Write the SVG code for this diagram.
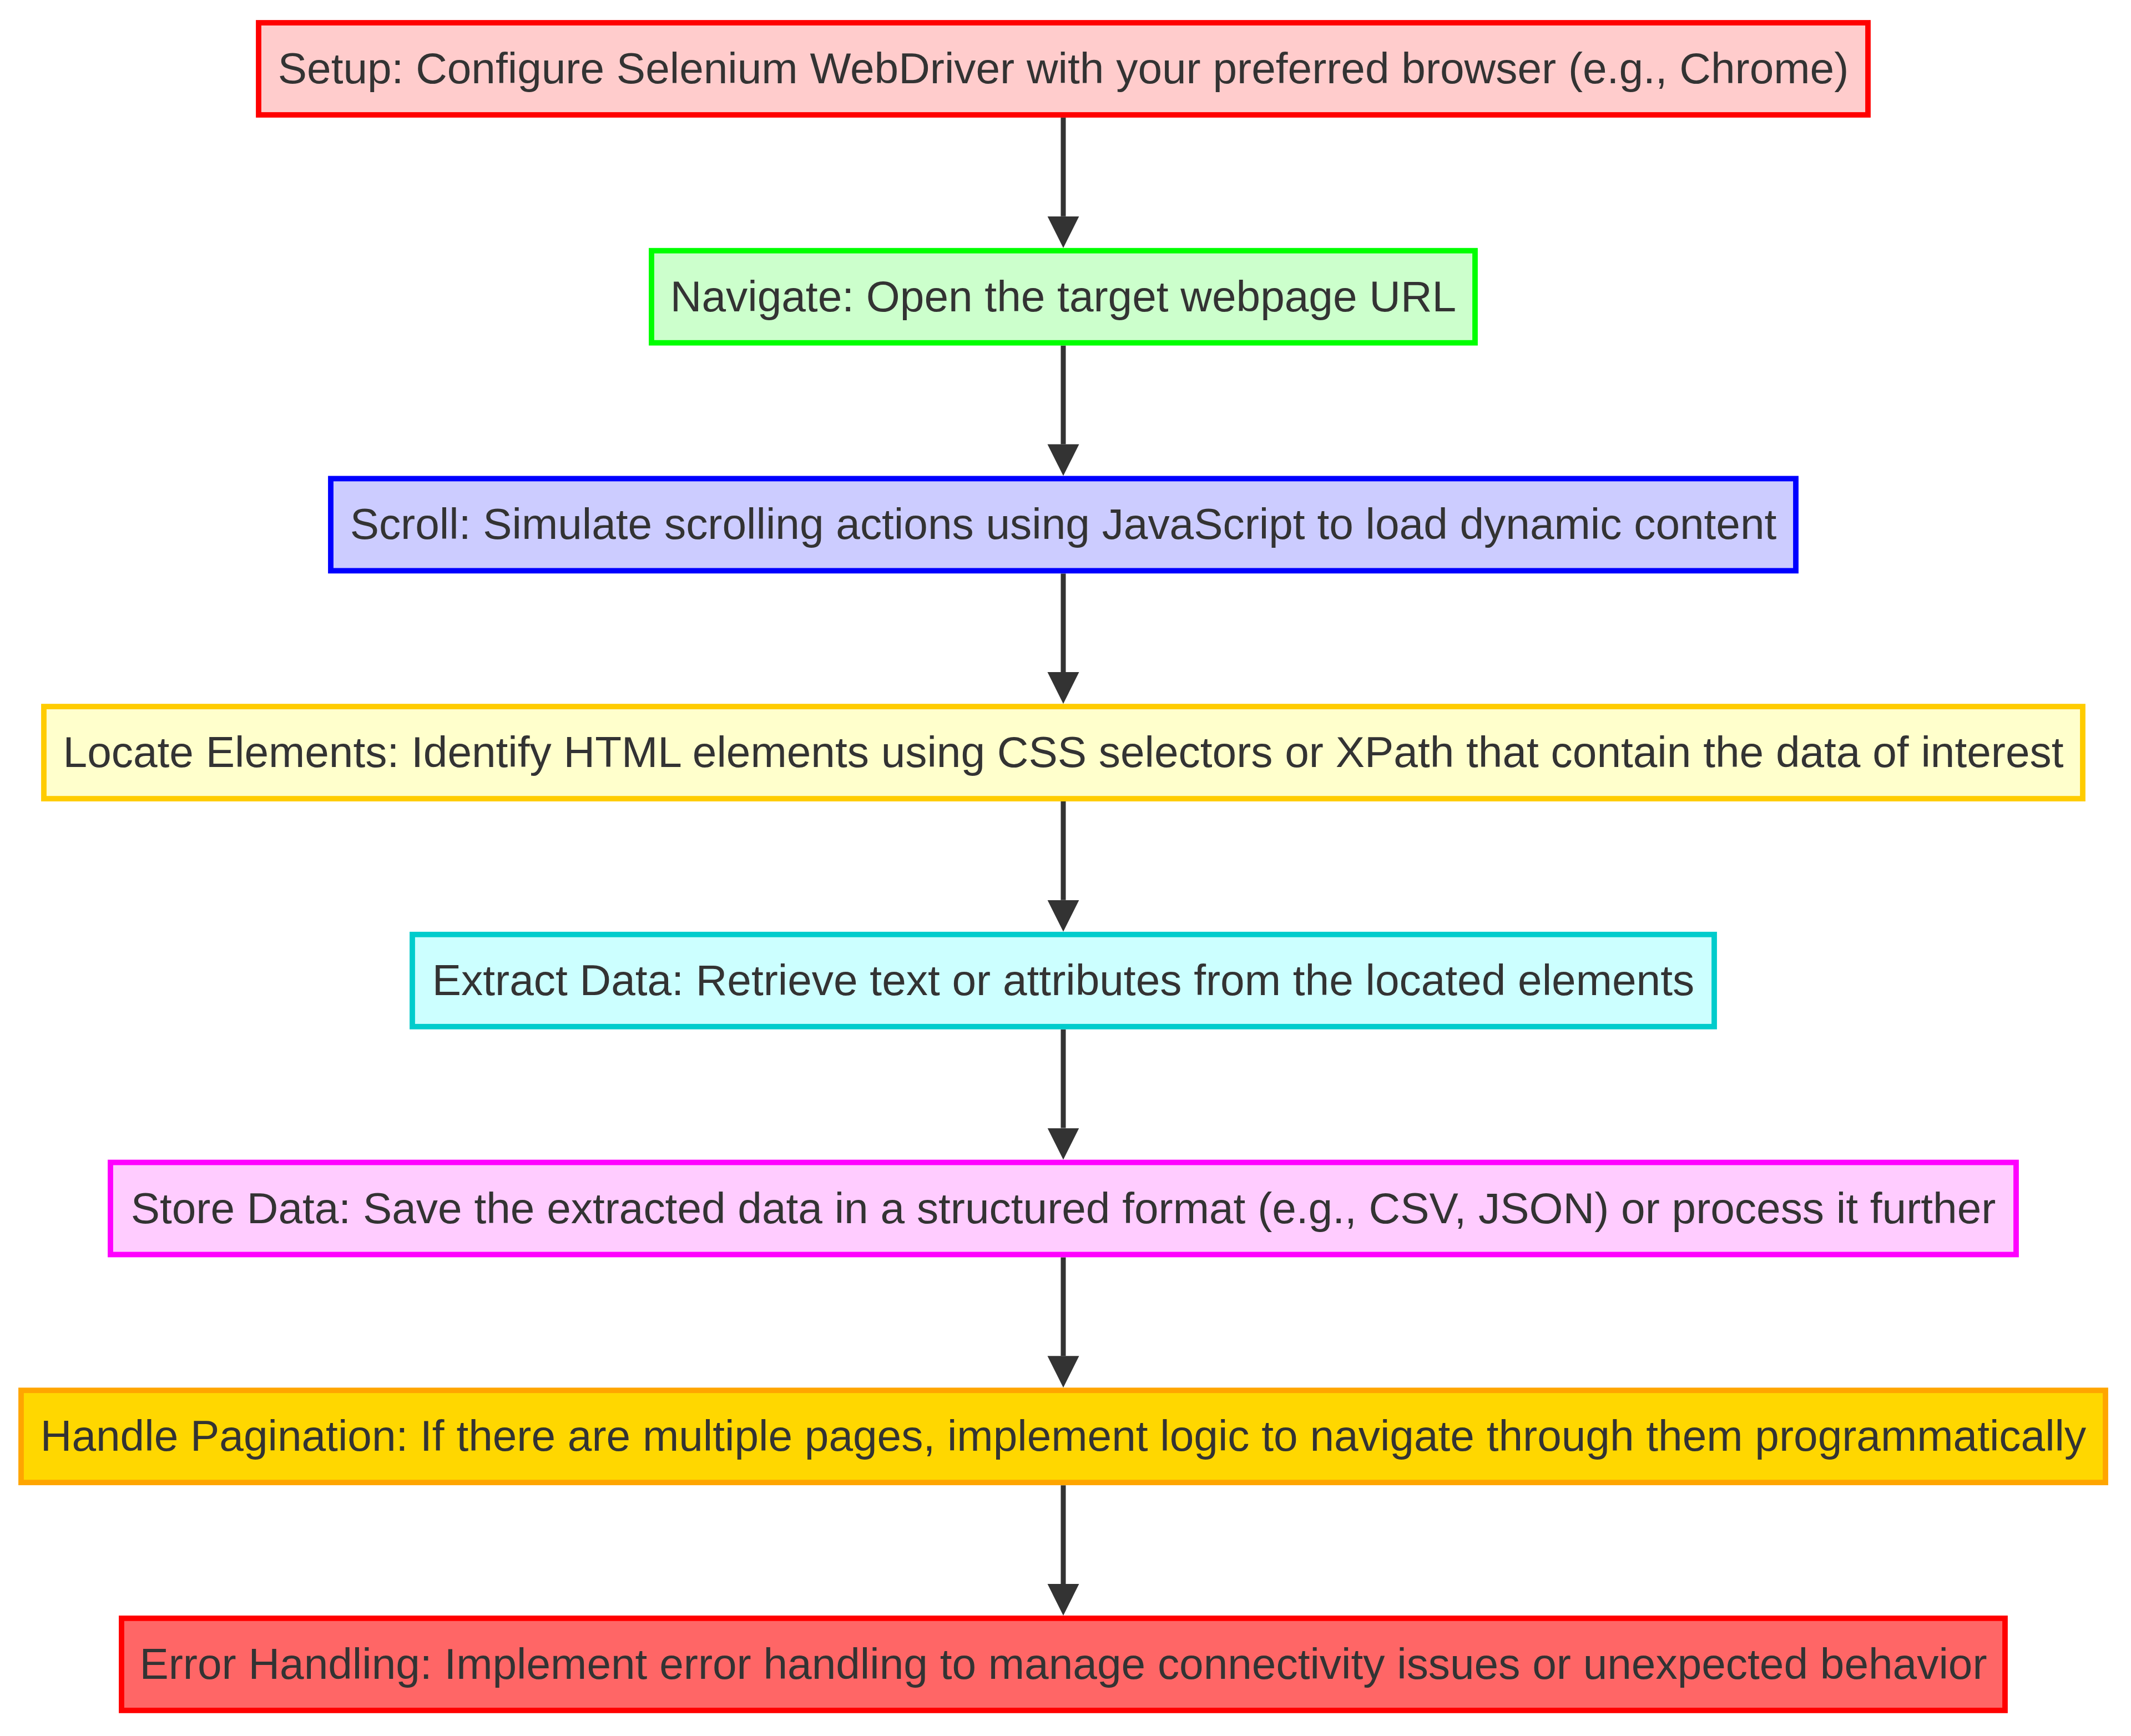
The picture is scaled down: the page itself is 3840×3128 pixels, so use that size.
<svg xmlns="http://www.w3.org/2000/svg" width="3840" height="3128" viewBox="0 0 3840 3128">
<style>
.node rect{stroke-width:9.8}
.node text{font-family:"Liberation Sans",Arial,sans-serif;font-size:78.4px;fill:#333333;text-anchor:middle}
.edge{stroke:#333333;stroke-width:9;fill:none}
</style>
<defs>
<marker id="arrow" viewBox="0 0 10 10" refX="0" refY="5" markerUnits="userSpaceOnUse" markerWidth="57" markerHeight="58" orient="auto">
<path d="M0,0 L10,5 L0,10 z" fill="#333333"/>
</marker>
</defs>
<rect width="3840" height="3128" fill="#ffffff"/>
<g id="connectors">
<line class="edge" x1="1916" y1="212" x2="1916" y2="389.7" marker-end="url(#arrow)"/>
<line class="edge" x1="1916" y1="622.7" x2="1916" y2="800.4" marker-end="url(#arrow)"/>
<line class="edge" x1="1916" y1="1033.4" x2="1916" y2="1211.1" marker-end="url(#arrow)"/>
<line class="edge" x1="1916" y1="1444.1" x2="1916" y2="1621.8" marker-end="url(#arrow)"/>
<line class="edge" x1="1916" y1="1854.8" x2="1916" y2="2032.5" marker-end="url(#arrow)"/>
<line class="edge" x1="1916" y1="2265.5" x2="1916" y2="2443.2" marker-end="url(#arrow)"/>
<line class="edge" x1="1916" y1="2676.2" x2="1916" y2="2853.9" marker-end="url(#arrow)"/>
</g>
<g id="setup" class="node">
<rect x="466" y="41" width="2900" height="166" fill="#ffcccc" stroke="#ff0000"/>
<text x="1916" y="150">Setup: Configure Selenium WebDriver with your preferred browser (e.g., Chrome)</text>
</g>
<g id="navigate" class="node">
<rect x="1174" y="451.7" width="1484" height="166" fill="#ccffcc" stroke="#00ff00"/>
<text x="1916" y="560.7">Navigate: Open the target webpage URL</text>
</g>
<g id="scroll" class="node">
<rect x="596" y="862.4" width="2640" height="166" fill="#ccccff" stroke="#0000ff"/>
<text x="1916" y="971.4">Scroll: Simulate scrolling actions using JavaScript to load dynamic content</text>
</g>
<g id="locate" class="node">
<rect x="79" y="1273.1" width="3674" height="166" fill="#ffffcc" stroke="#ffcc00"/>
<text x="1916" y="1382.1">Locate Elements: Identify HTML elements using CSS selectors or XPath that contain the data of interest</text>
</g>
<g id="extract" class="node">
<rect x="743" y="1683.8" width="2346" height="166" fill="#ccffff" stroke="#00cccc"/>
<text x="1916" y="1792.8">Extract Data: Retrieve text or attributes from the located elements</text>
</g>
<g id="store" class="node">
<rect x="199" y="2094.5" width="3434" height="166" fill="#ffccff" stroke="#ff00ff"/>
<text x="1916" y="2203.5">Store Data: Save the extracted data in a structured format (e.g., CSV, JSON) or process it further</text>
</g>
<g id="pagination" class="node">
<rect x="38" y="2505.2" width="3756" height="166" fill="#ffd700" stroke="#ffa500"/>
<text x="1916" y="2614.2">Handle Pagination: If there are multiple pages, implement logic to navigate through them programmatically</text>
</g>
<g id="error" class="node">
<rect x="219" y="2915.9" width="3394" height="166" fill="#ff6666" stroke="#ff0000"/>
<text x="1916" y="3024.9">Error Handling: Implement error handling to manage connectivity issues or unexpected behavior</text>
</g>
</svg>
